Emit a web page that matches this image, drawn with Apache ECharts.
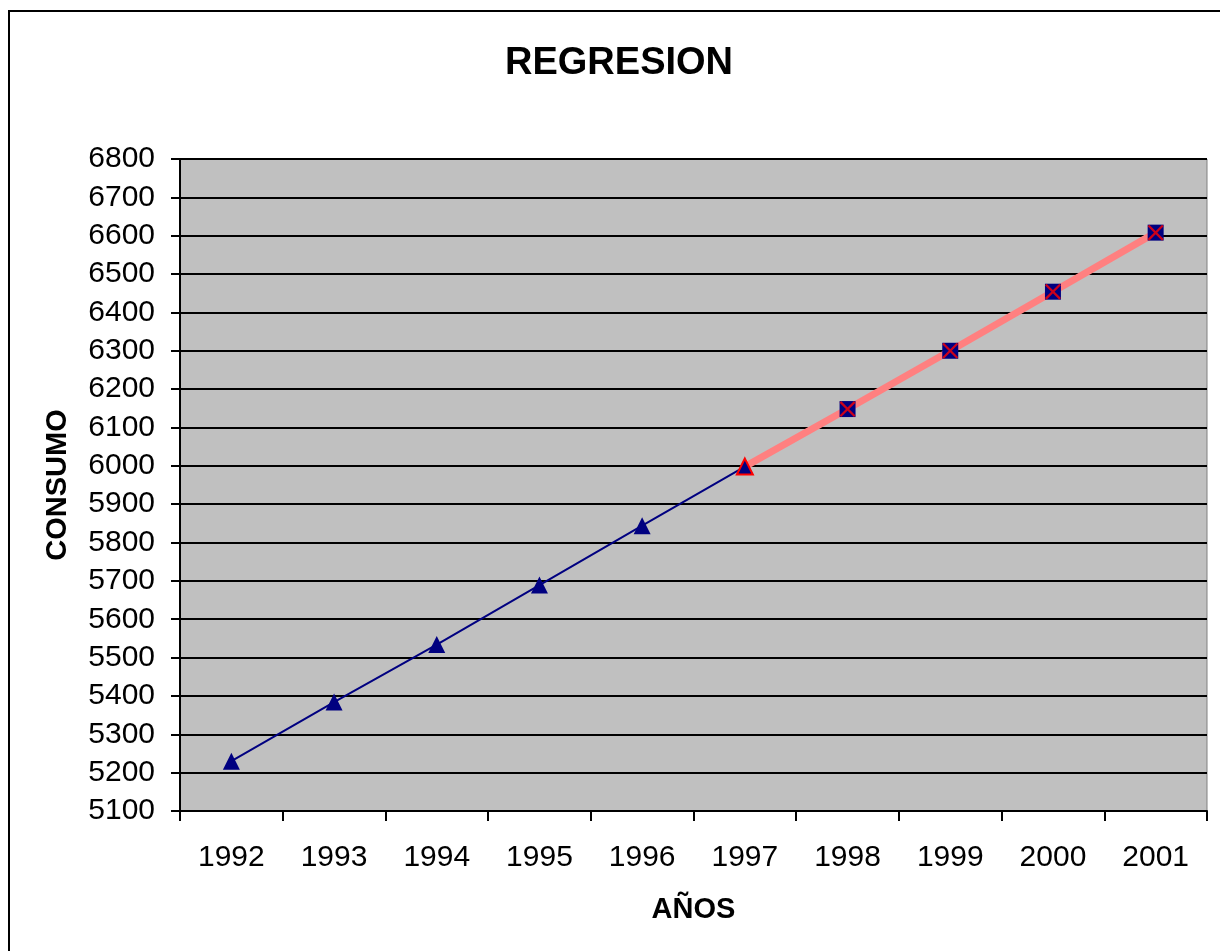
<!DOCTYPE html>
<html>
<head>
<meta charset="utf-8">
<script src="https://cdn.jsdelivr.net/npm/echarts@6/dist/echarts.min.js"></script>
<style>
  html, body { margin: 0; padding: 0; background: #fff; }
  #chart { width: 1220px; height: 951px; }
</style>
</head>
<body>
<div id="chart"></div>
<script>
const YEARS = ['1992', '1993', '1994', '1995', '1996', '1997', '1998', '1999', '2000', '2001'];
const CONSUMO = [5230, 5384, 5534, 5689, 5844, 5998, null, null, null, null];
const REGRESION = [null, null, null, null, null, 5998, 6148, 6300, 6454, 6608];

const FONT = '"Liberation Sans", Arial, sans-serif';
const NAVY = '#000080';
const X_MARK = 'path://M0,1L1,0L10,9L9,10Z M9,0L10,1L1,10L0,9Z';

const chart = echarts.init(document.getElementById('chart'), null, { renderer: 'canvas' });

// 1997 is where both lines meet: triangle with red border
const regresionPoints = REGRESION.map((value, i) => {
  if (value === null) return null;
  if (i === 5) {
    return {
      value,
      symbol: 'triangle',
      symbolSize: 16,
      itemStyle: { color: NAVY, borderColor: '#ff0000', borderWidth: 2 },
    };
  }
  return value;
});

chart.setOption({
  animation: false,
  backgroundColor: '#fff',
  textStyle: { fontFamily: FONT },
  title: {
    text: 'REGRESION',
    left: 505,
    top: 45,
    padding: 0,
    textStyle: { fontFamily: FONT, fontSize: 38, fontWeight: 'bold', color: '#000' },
  },
  graphic: [
    {
      type: 'rect',
      shape: { x: 9, y: 11, width: 1400, height: 1200 },
      style: { fill: 'none', stroke: '#000', lineWidth: 2 },
      silent: true,
    },
  ],
  grid: {
    left: 180,
    right: 13,
    top: 159,
    bottom: 140,
    show: true,
    backgroundColor: '#c0c0c0',
    borderColor: '#808080',
    borderWidth: 1,
  },
  xAxis: {
    type: 'category',
    data: YEARS,
    boundaryGap: true,
    name: 'AÑOS',
    nameLocation: 'middle',
    nameGap: 84,
    nameTextStyle: { fontFamily: FONT, fontSize: 29, fontWeight: 'bold', color: '#000' },
    axisLine: { lineStyle: { color: '#000', width: 2 } },
    axisTick: { show: true, length: 10, lineStyle: { color: '#000', width: 2 } },
    axisLabel: { fontFamily: FONT, fontSize: 30, color: '#000', margin: 32 },
    splitLine: { show: false },
  },
  yAxis: {
    type: 'value',
    min: 5100,
    max: 6800,
    interval: 100,
    name: 'CONSUMO',
    nameLocation: 'middle',
    nameGap: 108,
    nameRotate: 90,
    nameTextStyle: { fontFamily: FONT, fontSize: 29, fontWeight: 'bold', color: '#000' },
    axisLine: { show: true, lineStyle: { color: '#000', width: 2 } },
    axisTick: { show: true, length: 9, lineStyle: { color: '#000', width: 2 } },
    axisLabel: {
      fontFamily: FONT,
      fontSize: 30,
      color: '#000',
      margin: 25,
      formatter: (value) => String(value),
    },
    splitLine: { show: true, lineStyle: { color: '#000', width: 2 } },
  },
  series: [
    {
      name: 'CONSUMO',
      type: 'line',
      data: CONSUMO,
      symbol: 'triangle',
      symbolSize: 17,
      showAllSymbol: true,
      lineStyle: { color: NAVY, width: 2 },
      itemStyle: { color: NAVY },
      z: 3,
    },
    {
      name: 'REGRESION',
      type: 'line',
      data: regresionPoints,
      symbol: 'rect',
      symbolSize: 16,
      showAllSymbol: true,
      lineStyle: { color: '#ff8080', width: 7 },
      itemStyle: { color: NAVY },
      z: 4,
    },
    {
      name: 'REGRESION X',
      type: 'scatter',
      data: REGRESION.map((value, i) => (i > 5 ? value : null)),
      symbol: X_MARK,
      symbolSize: 16,
      itemStyle: { color: '#ff0000' },
      z: 5,
    },
  ],
});
</script>
</body>
</html>
